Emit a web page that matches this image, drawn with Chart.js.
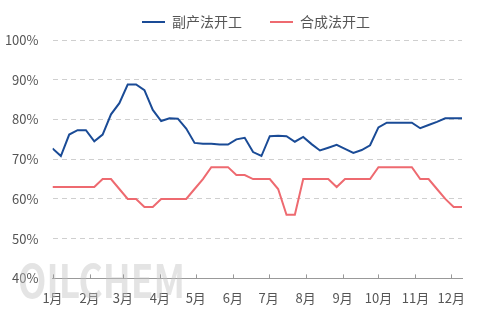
<!DOCTYPE html>
<html>
<head>
<meta charset="utf-8">
<script src="https://cdn.jsdelivr.net/npm/chart.js@4.4.0/dist/chart.umd.min.js"></script>
<style>
  html, body { margin: 0; padding: 0; background: #fff; }
  #wrap { width: 488px; height: 325px; }
</style>
</head>
<body>
<div id="wrap"><canvas id="grafico"></canvas></div>
<script>
// dados semanais (1 ponto por semana, a partir de 1º de janeiro)
const meses = ["1月", "2月", "3月", "4月", "5月", "6月", "7月", "8月", "9月", "10月", "11月", "12月"];
const inicioMes = [0, 31, 59, 90, 120, 151, 181, 212, 243, 273, 304, 334]; // dia do ano
const yTicks = [40, 50, 60, 70, 80, 90, 100];

const subproduto = [
  72.7, 70.8, 76.2, 77.3, 77.3, 74.5, 76.2, 81.3, 84.1, 88.8,
  88.8, 87.4, 82.4, 79.6, 80.3, 80.2, 77.7, 74.1, 73.9, 73.9,
  73.7, 73.7, 75.0, 75.4, 71.8, 70.8, 75.8, 75.9, 75.8, 74.4,
  75.6, 73.8, 72.2, 72.9, 73.6, 72.6, 71.6, 72.3, 73.5, 78.0,
  79.2, 79.2, 79.2, 79.2, 77.8, 78.6, 79.4, 80.3, 80.3, 80.3
];
const sintese = [
  63, 63, 63, 63, 63, 63, 65, 65, 62.5, 60,
  60, 58, 58, 60, 60, 60, 60, 62.5, 65, 68,
  68, 68, 66, 66, 65, 65, 65, 62.5, 56, 56,
  65, 65, 65, 65, 63, 65, 65, 65, 65, 68,
  68, 68, 68, 68, 65, 65, 62.5, 60, 58, 58
];

const FONTE = "'Noto Sans CJK SC', 'Noto Sans', sans-serif";
const semana = (arr) => arr.map((v, i) => ({ x: i * 7, y: v }));

// ajuste da legenda: mais alta e deslocada para a direita
const ajusteLegenda = {
  id: "ajusteLegenda",
  beforeUpdate(chart) {
    const leg = chart.legend;
    if (!leg || leg._ajustada) return;
    const fitOriginal = leg.fit;
    leg.fit = function () {
      fitOriginal.call(this);
      this.height += 1;
    };
    leg._ajustada = true;
  },
  afterLayout(chart) {
    chart.legend.left += 25;
    chart.legend.right += 25;
  }
};

// marca d'água
const marcaDagua = {
  id: "marcaDagua",
  beforeDatasetsDraw(chart) {
    const ctx = chart.ctx;
    ctx.save();
    ctx.font = "bold 46px " + FONTE;
    const w = ctx.measureText("OILCHEM").width;
    ctx.translate(18, 298);
    ctx.scale(167 / w, 1);
    ctx.fillStyle = "rgba(195,195,195,0.45)";
    ctx.textBaseline = "alphabetic";
    ctx.fillText("OILCHEM", 0, 0);
    ctx.restore();
  }
};

// tracinhos do eixo x, voltados para dentro
const tracosEixo = {
  id: "tracosEixo",
  afterDatasetsDraw(chart) {
    const ctx = chart.ctx;
    const escala = chart.scales.x;
    const base = chart.chartArea.bottom;
    ctx.save();
    ctx.strokeStyle = "#999";
    ctx.lineWidth = 1;
    inicioMes.forEach((d) => {
      const x = Math.round(escala.getPixelForValue(d)) + 0.5;
      ctx.beginPath();
      ctx.moveTo(x, base - 4);
      ctx.lineTo(x, base);
      ctx.stroke();
    });
    ctx.restore();
  }
};

new Chart(document.getElementById("grafico"), {
  type: "line",
  data: {
    datasets: [
      {
        label: "副产法开工",
        data: semana(subproduto),
        borderColor: "#1a4b96",
        backgroundColor: "#1a4b96",
        borderWidth: 2,
        pointRadius: 0,
        tension: 0
      },
      {
        label: "合成法开工",
        data: semana(sintese),
        borderColor: "#ee6a70",
        backgroundColor: "#ee6a70",
        borderWidth: 2,
        pointRadius: 0,
        tension: 0
      }
    ]
  },
  options: {
    responsive: true,
    maintainAspectRatio: false,
    animation: false,
    layout: { padding: { left: 0, right: 26, top: -13, bottom: 15 } },
    plugins: {
      tooltip: { enabled: false },
      legend: {
        position: "top",
        labels: {
          usePointStyle: true,
          pointStyle: "line",
          pointStyleWidth: 23,
          padding: 28,
          color: "#555",
          font: { family: FONTE, size: 14 }
        }
      }
    },
    scales: {
      x: {
        type: "linear",
        min: 0,
        max: 343,
        afterBuildTicks: (s) => { s.ticks = inicioMes.map((v) => ({ value: v })); },
        ticks: {
          autoSkip: false,
          maxRotation: 0,
          padding: 4,
          color: "#555",
          font: { family: FONTE, size: 13 },
          callback: (v, i) => meses[i]
        },
        grid: { display: false },
        border: { display: true, color: "#999", width: 1 }
      },
      y: {
        min: 40,
        max: 100,
        afterBuildTicks: (s) => { s.ticks = yTicks.map((v) => ({ value: v })); },
        afterFit: (s) => { s.width = 52.5; },
        ticks: {
          padding: 14,
          color: "#555",
          font: { family: FONTE, size: 13 },
          callback: (v) => v + "%"
        },
        grid: { color: "#cfcfcf", lineWidth: 1, drawTicks: false },
        border: { display: false, dash: [5, 4] }
      }
    }
  },
  plugins: [ajusteLegenda, marcaDagua, tracosEixo]
});
</script>
</body>
</html>
